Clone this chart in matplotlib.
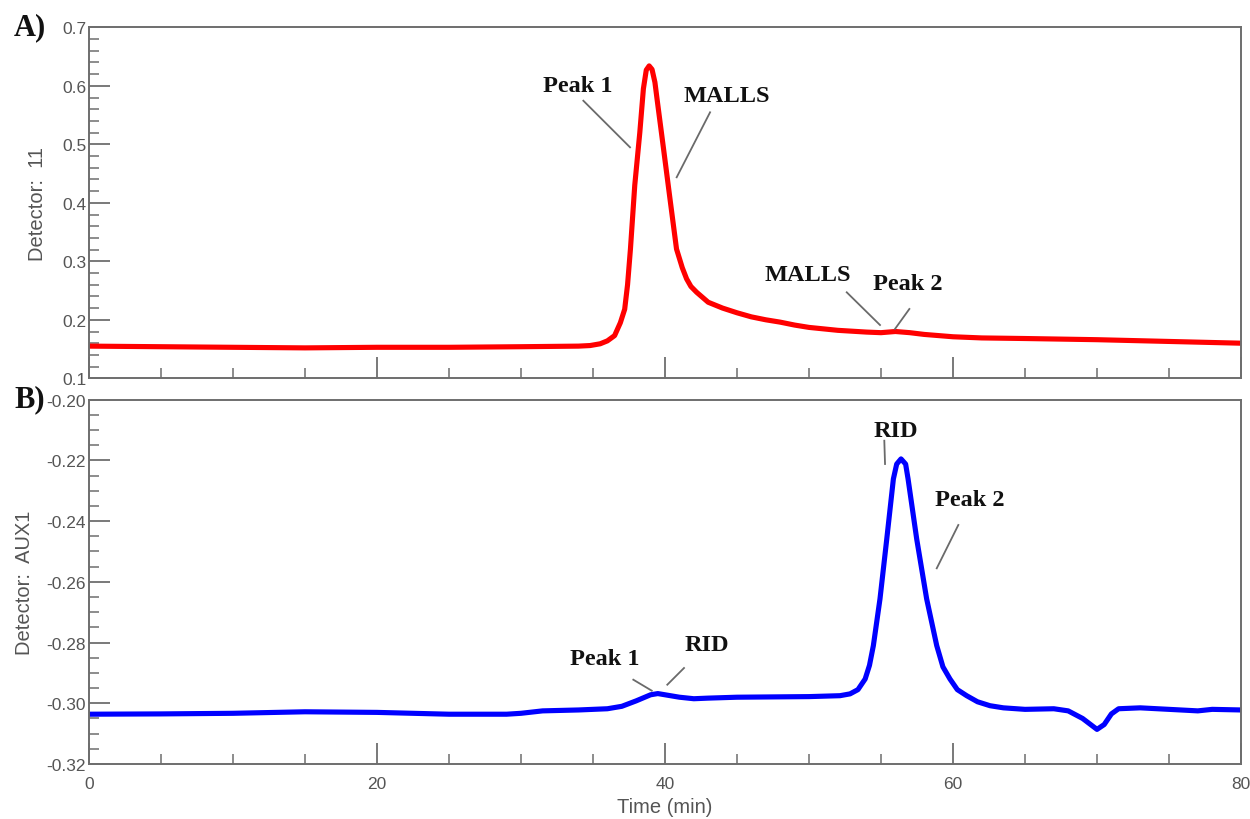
import matplotlib
matplotlib.use("Agg")
import matplotlib.pyplot as plt
from matplotlib.ticker import MultipleLocator

# ---- data ----
t_malls = [0, 5, 10, 15, 20, 25, 30, 34, 34.8, 35.5, 36.0, 36.5, 36.9, 37.2, 37.4, 37.6,
           37.9, 38.25, 38.5, 38.7, 38.9, 39.1, 39.3, 39.45, 39.9, 40.35, 40.8, 41.2,
           41.5, 41.8, 42.2, 43.0, 44, 45, 46, 47, 48, 49, 50, 52, 54, 55, 56, 57, 58, 60,
           62, 65, 70, 75, 80]
v_malls = [0.155, 0.154, 0.153, 0.152, 0.153, 0.153, 0.154, 0.155, 0.156, 0.159, 0.164,
           0.173, 0.195, 0.218, 0.26, 0.321, 0.43, 0.52, 0.595, 0.627, 0.634, 0.628,
           0.606, 0.577, 0.492, 0.406, 0.321, 0.289, 0.270, 0.257, 0.247, 0.230, 0.220,
           0.212, 0.205, 0.200, 0.196, 0.191, 0.187, 0.182, 0.179, 0.178, 0.180, 0.178,
           0.175, 0.171, 0.169, 0.168, 0.166, 0.163, 0.160]

t_rid = [0, 5, 10, 15, 20, 25, 29, 30, 31.5, 34, 36, 37, 38, 39, 39.5, 40, 41, 42, 43, 45,
         50, 52.15, 52.85, 53.4, 53.9, 54.2, 54.47, 54.93, 55.4, 55.86, 56.09, 56.39, 56.71,
         56.88, 57.48, 58.17, 58.87, 59.3, 59.79, 60.3, 60.95, 61.7, 62.57, 63.5, 65, 67, 68,
         69, 70, 70.5, 71, 71.5, 73, 75, 77, 78, 80]
v_rid = [-0.3036, -0.3035, -0.3033, -0.3028, -0.3030, -0.3036, -0.3036, -0.3033, -0.3025,
         -0.3022, -0.3018, -0.3010, -0.2992, -0.2972, -0.2968, -0.2972, -0.2980, -0.2985,
         -0.2983, -0.2980, -0.2978, -0.2975, -0.2969, -0.2955, -0.2920, -0.2875, -0.2810,
         -0.2656, -0.2459, -0.2261, -0.2212, -0.2195, -0.2212, -0.2261, -0.2459, -0.2656,
         -0.2810, -0.2880, -0.2920, -0.2955, -0.2975, -0.2995, -0.3008, -0.3015, -0.3020,
         -0.3018, -0.3025, -0.3050, -0.3086, -0.3070, -0.3035, -0.3018, -0.3015, -0.3020,
         -0.3025, -0.3020, -0.3022]

x_major = [0, 20, 40, 60, 80]
x_labels = ["0", "20", "40", "60", "80"]

# annotations: (text, text_x, text_y, line_x0, line_y0, line_x1, line_y1)
ann_top = [("Peak 1", 33.96, 0.5997, 34.33, 0.5745, 37.57, 0.4949),
           ("MALLS", 44.31, 0.5826, 43.13, 0.5547, 40.81, 0.4436),
           ("MALLS", 49.93, 0.2766, 52.62, 0.2470, 54.93, 0.1911),
           ("Peak 2", 56.88, 0.2629, 56.97, 0.2185, 55.97, 0.1843)]
ann_bot = [("Peak 1", 35.83, -0.28541, 37.8, -0.29223, 39.08, -0.29585),
           ("RID", 42.92, -0.28080, 41.32, -0.28838, 40.16, -0.29388),
           ("RID", 56.04, -0.21031, 55.23, -0.21351, 55.28, -0.22118),
           ("Peak 2", 61.18, -0.23271, 60.37, -0.24127, 58.87, -0.25554)]

W, H = 1250, 820
fig = plt.figure(figsize=(12.5, 8.2), dpi=100)
ax1 = fig.add_axes([89 / W, 1 - 379.3 / H, 1152 / W, 351 / H])
ax2 = fig.add_axes([89 / W, 1 - 765 / H, 1152 / W, 364.3 / H])

spine_col = "#6e6e6e"
lab_col = "#555555"
sans = "Liberation Sans"
serif = "Liberation Serif"

ax1.plot(t_malls, v_malls, color="#ff0000", lw=3.7, solid_joinstyle="round")
ax2.plot(t_rid, v_rid, color="#0000ff", lw=3.7, solid_joinstyle="round")

for ax in (ax1, ax2):
    ax.set_xlim(0, 80)
    ax.xaxis.set_major_locator(plt.FixedLocator(x_major))
    ax.xaxis.set_minor_locator(MultipleLocator(5))
    for s in ax.spines.values():
        s.set_color(spine_col)
        s.set_linewidth(1.4)
    ax.tick_params(axis="both", which="major", direction="in", length=15, width=1.3,
                   color=spine_col, labelcolor=lab_col, labelsize=12.5)
    ax.tick_params(axis="both", which="minor", direction="in", length=7.5, width=1.1,
                   color=spine_col)
    ax.tick_params(top=False, right=False, which="both")

ax1.set_ylim(0.1, 0.7)
ax1.yaxis.set_minor_locator(MultipleLocator(0.02))
ax1.set_yticks([0.1, 0.2, 0.3, 0.4, 0.5, 0.6, 0.7])
ax1.set_yticklabels(["0.1", "0.2", "0.3", "0.4", "0.5", "0.6", "0.7"], family=sans)
ax1.tick_params(axis="x", labelbottom=False)
ax1.tick_params(axis="y", pad=2)

ax2.set_ylim(-0.32, -0.20)
ax2.yaxis.set_minor_locator(MultipleLocator(0.005))
ax2.set_yticks([-0.32, -0.30, -0.28, -0.26, -0.24, -0.22, -0.20])
ax2.set_yticklabels(["-0.32", "-0.30", "-0.28", "-0.26", "-0.24", "-0.22", "-0.20"], family=sans)
ax2.set_xticklabels(x_labels, family=sans)
ax2.tick_params(axis="y", pad=2)
ax2.tick_params(axis="x", pad=9)

ax1.set_ylabel("Detector:  11", family=sans, fontsize=14.5, color=lab_col)
ax2.set_ylabel("Detector:  AUX1", family=sans, fontsize=14.5, color=lab_col)
ax1.yaxis.set_label_coords(-42 / 1152, 0.5)
ax2.yaxis.set_label_coords(-55 / 1152, 0.5)
ax2.set_xlabel("Time (min)", family=sans, fontsize=14.5, color=lab_col, labelpad=4)

for ax, anns in ((ax1, ann_top), (ax2, ann_bot)):
    for txt, tx, ty, x0, y0, x1, y1 in anns:
        ax.text(tx, ty, txt, family=serif, fontweight="bold", fontsize=17.5,
                ha="center", va="center", color="#111111")
        ax.plot([x0, x1], [y0, y1], color="#6a6a6a", lw=1.3)

fig.text(30 / W, 1 - 28 / H, "A)", family=serif, fontweight="bold", fontsize=22,
         ha="center", va="center", color="#111111")
fig.text(30 / W, 1 - 400 / H, "B)", family=serif, fontweight="bold", fontsize=22,
         ha="center", va="center", color="#111111")

fig.savefig("out.png", dpi=100)
